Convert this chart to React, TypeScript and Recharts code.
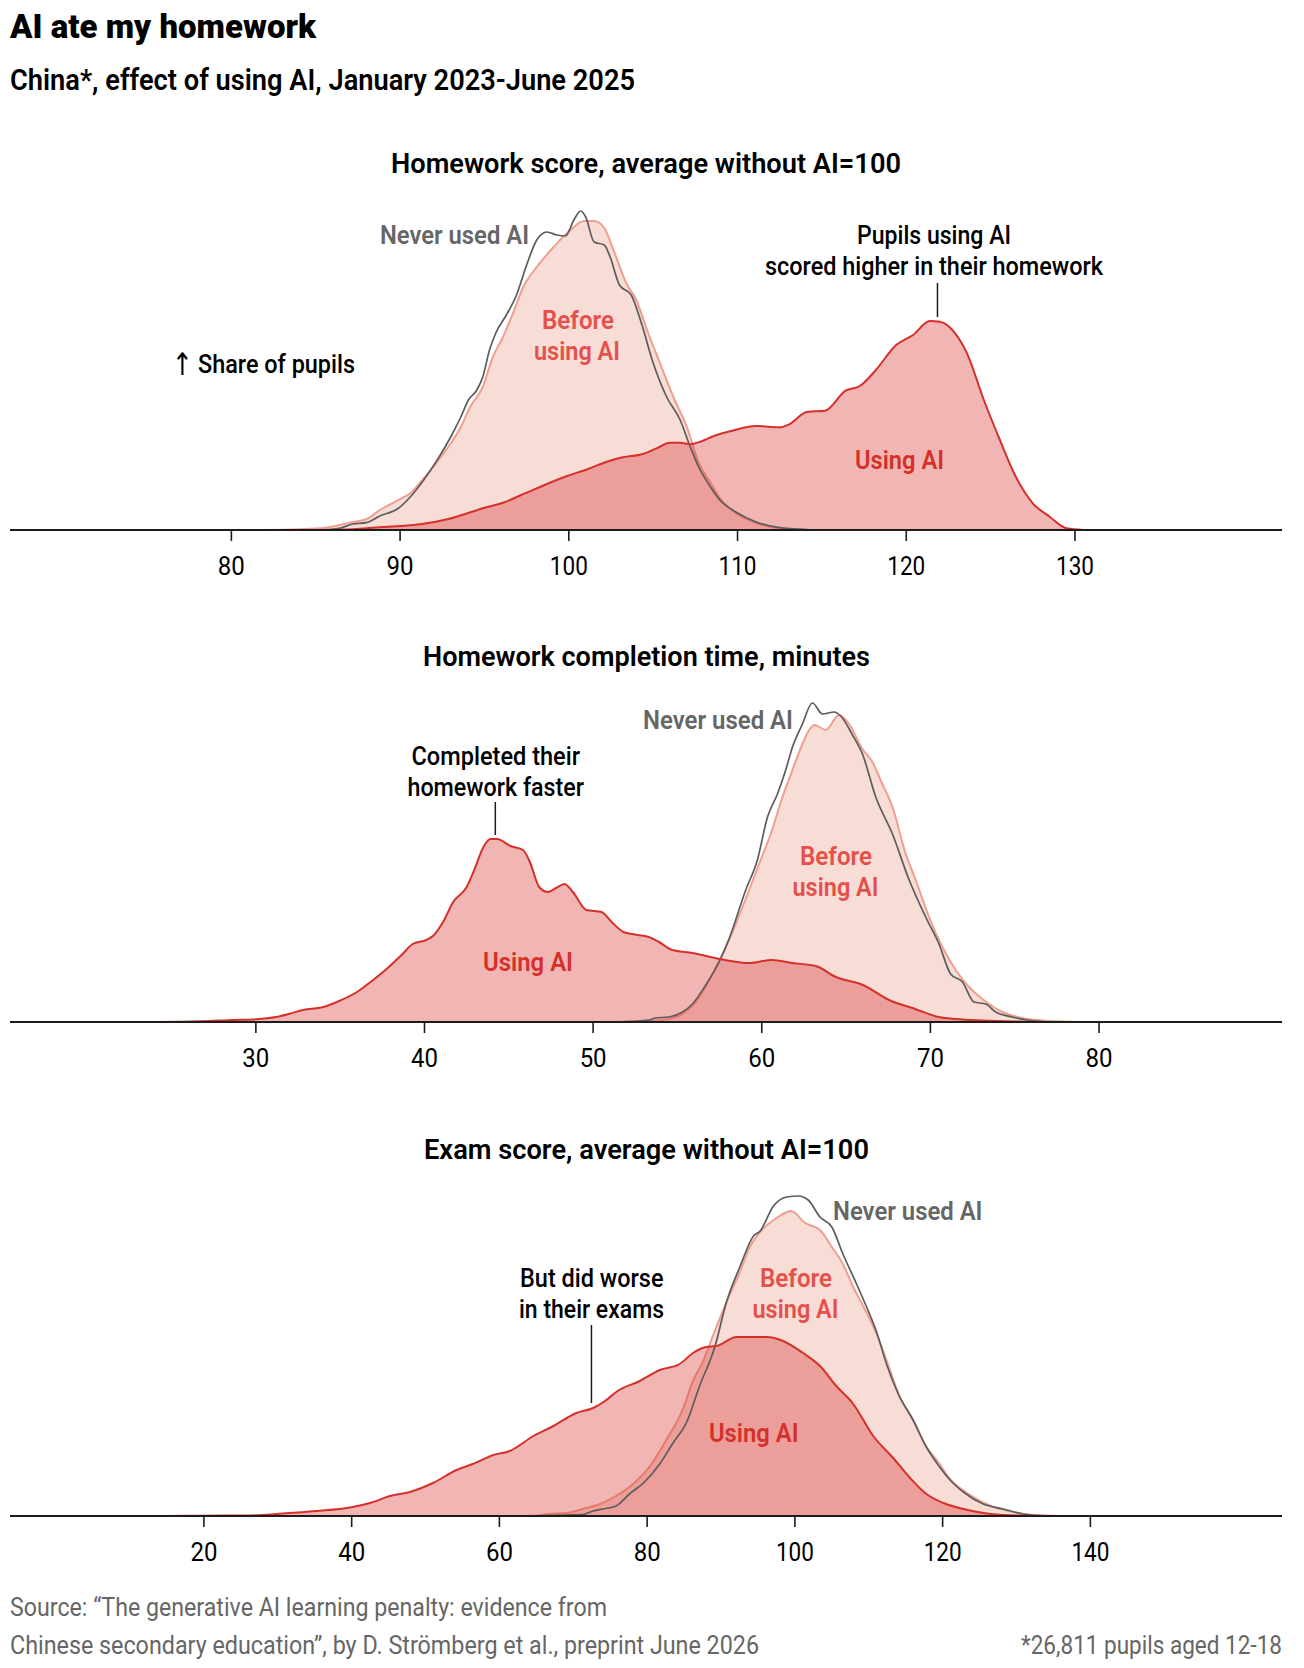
import React from "react";
import { AreaChart, Area, XAxis, YAxis, ReferenceLine } from "recharts";

// ---------- Homework score ----------
const scoreNeverX = [83,85.3,86.4,87.2,88,88.8,89.9,90.6,91.4,92.2,93,93.6,94.05,94.55,94.9,95.3,95.7,96.3,96.9,97.5,98.1,98.7,99.3,99.8,100.3,100.7,101,101.5,102.1,102.45,103,103.7,104.3,105,105.8,106.6,107.2,107.7,108.4,108.95,109.9,111.1,112.5,114.5];
const scoreNeverY = [0,0,1.7,6,7.3,14,21.7,33,50,70,93,113,130,140,153,180,198,215,235,265,290,298,295,294,310,319,313,288,285,273,245,235,207,167,133,110,83,63,43,30,18,8,2.3,0];
const scoreBeforeX = [82,85.3,86.4,87.2,88,88.8,89.9,90.6,91.4,92.2,93,93.6,94.15,94.9,95.5,96.1,96.7,97.3,98.1,99.1,100.1,100.9,101.5,102.1,102.65,103.4,104,104.7,105.4,106.2,107,107.7,108.4,108.95,109.9,111.1,112.5,114.3];
const scoreBeforeY = [0,1.7,5,8,10.7,20,30,36.7,51.7,68,86.7,103,123,143,173,193,217,243,263,283,300,309,309,302,280,247,230,197,167,133,103,67,47,32,17,7,1.7,0];
const scoreUsingX = [85,87.2,88.8,90,91.2,92.8,94,94.9,96.1,97.5,98.7,99.9,101.1,102.25,103.2,104.4,105.2,106,106.6,107.2,107.8,108.6,109.7,111.1,112.5,113.1,114.1,115.2,116.4,117.25,118.2,119.4,120.4,121.4,122,122.9,123.6,124.6,125.55,126.5,127.5,128.5,129.5,130.5];
const scoreUsingY = [0,0.7,2.7,4,5.7,10.7,16.7,21.7,27.3,37.3,46,54,60.7,68.3,72.7,76,81.7,87.3,87.3,85.7,88.3,94,99.3,104,102.7,106,118,119.3,139.3,144,160,185,195,209,208.3,196.7,176.7,130,90,53,26.7,13.3,1.7,0];
const scoreTicks = [80,90,100,110,120,130];

// ---------- Completion time ----------
const timeNeverX = [51.5,53.3,53.7,54.51,55.3,55.89,56.68,57.47,58.06,59.05,59.74,60.34,60.93,61.42,61.82,62.41,63,63.6,64.29,64.68,65.38,65.97,66.76,67.75,68.74,69.72,70.51,71.2,71.9,72.59,73.28,73.87,74.86,75.75,77];
const timeNeverY = [0,2,4,5,10,18,37,60,83,132,162,205,228,252,275,298,319,308,310,306,287,268,225,188,142,105,78,48,40,20,18,10,5,2,0];
const timeBeforeX = [51,53.3,54.51,55.3,56.09,56.88,57.67,58.46,59.25,59.84,60.53,61.23,61.82,62.41,62.81,63.14,63.79,64.58,65.18,65.97,66.56,67.15,67.75,68.54,69.13,69.92,70.71,71.5,72.29,73.08,74.27,75.45,77.03,79];
const timeBeforeY = [0,1,3,8,20,42,68,98,132,158,188,225,252,278,292,297,292,307,298,273,260,238,215,168,142,105,75,52,35,23,10,4,1,0];
const timeUsingX = [24,26.7,28.7,30,31.2,32,32.8,34,34.8,36,36.8,37.75,38.7,39.3,40.1,40.5,41.1,41.7,42.5,42.9,43.5,43.9,44.3,45.1,45.85,46.25,46.8,47.3,47.8,48.3,48.8,49.6,50.5,51.1,51.8,52.4,53.3,53.9,54.7,55.9,57.5,59.25,60.6,61.8,63.2,64.4,66,67.55,69.1,70.5,71.5,73.1,75,77];
const timeUsingY = [0,0.7,2,2.7,5,8.3,12,15,20,30,40,53,68,78,82,86,100,120,135,150,175,183,183,176,172,160,135,130,134,138,130,112,110,100,90,87.7,85,80,72,69,63,59,62,59,56,45,37,22,13,5,3,1.5,0.5,0];
const timeTicks = [30,40,50,60,70,80];

// ---------- Exam score ----------
const examNeverX = [64,66.8,69.1,71.3,72.7,74,75.8,77.6,79.5,81.7,83.5,85.3,87.1,89.2,90.7,92.6,94.4,95.3,97.1,98.9,100.45,101.8,103.4,105,106.5,108.35,109.7,111.06,112.4,114,116,117.8,119.6,121,122.8,125.5,128.2,130.9,134];
const examNeverY = [0,0.5,1,1.5,5,7,10,22,33,52,73,93,130,170,213,250,280,285,310,319,320,316,299,289,262,232,209,184,152,122,96,69,49,36,24,12,7,2,0];
const examBeforeX = [62,64.6,66.8,69.1,71.3,73.6,75.8,78.1,80.4,82.6,84.9,86.2,87.6,88.9,90.7,92.6,93.9,95.3,97.5,99.5,101.4,103.4,105,106.5,107.9,109.3,111.06,112.4,114.2,116,117.8,119.2,121,123.7,126.9,129.6,133.2,136.8];
const examBeforeY = [0,0.3,2,3,7,12,20,32,50,76,108,135,155,180,213,245,269,284,298,305,293,286,269,252,229,209,182,156,119,96,69,56,37,21,9,4,0.5,0];
const examUsingX = [15,19.5,26.2,30.7,35.2,39.8,42.5,45.2,47.9,51,54.2,56.4,59.2,61.4,64.6,67.3,70.4,72.7,74.3,76,79,81.7,84.4,86.2,88,89.4,92.1,93.9,96.2,98.4,101.1,103.4,105.6,107.9,110.6,113.3,115.6,117.8,120.1,122.8,125.5,128.2,132.3,136];
const examUsingY = [0,0.3,0.5,2.5,5,8.5,13,20,24,33,46,52,61,65,80,90,103,108,115,125,135,146,152,163,169,170,179,179,179,175,163,150,130,112,80,58,38,22,13,7,3,1,0.2,0];
const examTicks = [20,40,60,80,100,120,140];

const FONT = "Roboto, 'Noto Sans', sans-serif";
const RED = "#d5302a";
const SALMON = "#ef9f8f";
const GREY = "#666666";
const INK = "#1c1c1c";

const zip = (xs: number[], ys: number[]) => xs.map((x, i) => ({ x, y: ys[i] }));

type PanelProps = {
  baseline: number;
  domain: [number, number];
  ticks: number[];
  never: { x: number; y: number }[];
  before: { x: number; y: number }[];
  using: { x: number; y: number }[];
  leader: { x: number; from: number; to: number };
};

const PLOT_H = 340;
const AXIS_H = 80;

function AxisTick(props: any) {
  const label = String(props.payload.value);
  return (
    <text
      x={props.x}
      y={props.y + 26}
      textAnchor="middle"
      textLength={label.length === 3 ? 38 : 27}
      lengthAdjust="spacingAndGlyphs"
      fontFamily={FONT}
      fontSize={26}
      fill="#000"
    >
      {label}
    </text>
  );
}

function Panel({ baseline, domain, ticks, never, before, using, leader }: PanelProps) {
  return (
    <div style={{ position: "absolute", left: 10, top: baseline - PLOT_H }}>
      <AreaChart width={1272} height={PLOT_H + AXIS_H} margin={{ top: 0, right: 0, bottom: 0, left: 0 }}>
        <YAxis hide type="number" domain={[0, PLOT_H]} />
        <Area data={before} dataKey="y" type="monotone" stroke={SALMON} strokeWidth={2} fill="#f8dcd6" fillOpacity={1} isAnimationActive={false} dot={false} activeDot={false} />
        <Area data={using} dataKey="y" type="monotone" stroke="none" fill="#d8342f" fillOpacity={0.36} isAnimationActive={false} dot={false} activeDot={false} />
        <Area data={never} dataKey="y" type="monotone" stroke="#5c5c5c" strokeWidth={1.7} fill="none" fillOpacity={0} isAnimationActive={false} dot={false} activeDot={false} />
        <Area data={using} dataKey="y" type="monotone" stroke={RED} strokeWidth={2} fill="none" fillOpacity={0} isAnimationActive={false} dot={false} activeDot={false} />
        <ReferenceLine
          segment={[{ x: leader.x, y: leader.from }, { x: leader.x, y: leader.to }]}
          stroke={INK}
          strokeWidth={1.5}
          ifOverflow="visible"
        />
        <XAxis
          dataKey="x"
          type="number"
          domain={domain}
          ticks={ticks}
          allowDataOverflow
          interval={0}
          height={AXIS_H}
          tickSize={11}
          tickMargin={8}
          axisLine={{ stroke: INK, strokeWidth: 1.8 }}
          tickLine={{ stroke: INK, strokeWidth: 1.6 }}
          tick={AxisTick}
        />
      </AreaChart>
    </div>
  );
}

type Label = { t: string; x: number; y: number; w: number; size: number; weight: number; color: string; font?: string };

const labels: Label[] = [
  { t: "AI ate my homework", x: 10, y: 38, w: 306, size: 34, weight: 900, color: "#000" },
  { t: "China*, effect of using AI, January 2023-June 2025", x: 10, y: 89.5, w: 625, size: 29.5, weight: 600, color: "#000" },
  { t: "Homework score, average without AI=100", x: 391, y: 173, w: 510, size: 28.5, weight: 600, color: "#000" },
  { t: "Never used AI", x: 380, y: 244, w: 149, size: 26, weight: 600, color: GREY },
  { t: "Before", x: 542, y: 329, w: 72, size: 26, weight: 600, color: "#e5504a" },
  { t: "using AI", x: 534, y: 360, w: 86, size: 26, weight: 600, color: "#e5504a" },
  { t: "↑", x: 172, y: 375, w: 21, size: 31, weight: 400, color: "#000", font: "'DejaVu Sans'" },
  { t: "Share of pupils", x: 198, y: 373, w: 157, size: 26, weight: 500, color: "#000" },
  { t: "Pupils using AI", x: 857, y: 244, w: 154, size: 26, weight: 500, color: "#000" },
  { t: "scored higher in their homework", x: 765, y: 275, w: 338, size: 26, weight: 500, color: "#000" },
  { t: "Using AI", x: 855, y: 469, w: 89, size: 26, weight: 600, color: RED },

  { t: "Homework completion time, minutes", x: 423, y: 666, w: 447, size: 28.5, weight: 600, color: "#000" },
  { t: "Never used AI", x: 643, y: 729, w: 150, size: 26, weight: 600, color: GREY },
  { t: "Before", x: 800, y: 865, w: 72, size: 26, weight: 600, color: "#e5504a" },
  { t: "using AI", x: 792.5, y: 896, w: 86, size: 26, weight: 600, color: "#e5504a" },
  { t: "Completed their", x: 411.5, y: 765, w: 168.5, size: 26, weight: 500, color: "#000" },
  { t: "homework faster", x: 407.5, y: 796, w: 176.5, size: 26, weight: 500, color: "#000" },
  { t: "Using AI", x: 483, y: 971, w: 90, size: 26, weight: 600, color: RED },

  { t: "Exam score, average without AI=100", x: 424, y: 1159, w: 445, size: 28.5, weight: 600, color: "#000" },
  { t: "Never used AI", x: 833, y: 1220, w: 149.5, size: 26, weight: 600, color: GREY },
  { t: "Before", x: 760, y: 1287, w: 72, size: 26, weight: 600, color: "#e5504a" },
  { t: "using AI", x: 752.5, y: 1318, w: 86, size: 26, weight: 600, color: "#e5504a" },
  { t: "But did worse", x: 520, y: 1287, w: 143.5, size: 26, weight: 500, color: "#000" },
  { t: "in their exams", x: 519, y: 1318, w: 145, size: 26, weight: 500, color: "#000" },
  { t: "Using AI", x: 709, y: 1442, w: 89.5, size: 26, weight: 600, color: RED },

  { t: "Source: “The generative AI learning penalty: evidence from", x: 10, y: 1616, w: 597, size: 26, weight: 400, color: GREY },
  { t: "Chinese secondary education”, by D. Strömberg et al., preprint June 2026", x: 10, y: 1654, w: 749, size: 26, weight: 400, color: GREY },
  { t: "*26,811 pupils aged 12-18", x: 1021, y: 1654, w: 261, size: 26, weight: 400, color: GREY },
];

export default function App() {
  return (
    <div style={{ position: "absolute", left: 0, top: 0, width: 1304, height: 1668, background: "#fff", overflow: "hidden" }}>
      <Panel
        baseline={530}
        domain={[66.88, 142.27]}
        ticks={scoreTicks}
        never={zip(scoreNeverX, scoreNeverY)}
        before={zip(scoreBeforeX, scoreBeforeY)}
        using={zip(scoreUsingX, scoreUsingY)}
        leader={{ x: 121.85, from: 213, to: 247 }}
      />
      <Panel
        baseline={1022}
        domain={[15.42, 90.85]}
        ticks={timeTicks}
        never={zip(timeNeverX, timeNeverY)}
        before={zip(timeBeforeX, timeBeforeY)}
        using={zip(timeUsingX, timeUsingY)}
        leader={{ x: 44.2, from: 187, to: 220 }}
      />
      <Panel
        baseline={1516}
        domain={[-6.25, 165.94]}
        ticks={examTicks}
        never={zip(examNeverX, examNeverY)}
        before={zip(examBeforeX, examBeforeY)}
        using={zip(examUsingX, examUsingY)}
        leader={{ x: 72.46, from: 113, to: 191 }}
      />
      <svg width={1304} height={1668} style={{ position: "absolute", left: 0, top: 0, pointerEvents: "none" }}>
        {labels.map((l, i) => (
          <text
            key={i}
            x={l.x}
            y={l.y}
            textLength={l.w}
            lengthAdjust="spacingAndGlyphs"
            fontFamily={l.font || FONT}
            fontSize={l.size}
            fontWeight={l.weight}
            fill={l.color}
          >
            {l.t}
          </text>
        ))}
      </svg>
    </div>
  );
}
